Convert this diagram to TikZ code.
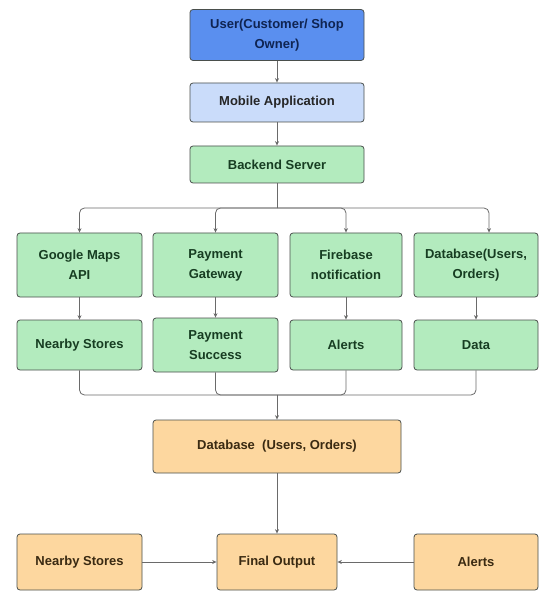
\documentclass[tikz,border=0pt]{standalone}
\usepackage{fontspec}
\setmainfont{Liberation Sans}
\usetikzlibrary{arrows.meta}
\definecolor{ublue}{HTML}{5A8FEF}
\definecolor{utext}{HTML}{0F2452}
\definecolor{lblue}{HTML}{CADCFA}
\definecolor{mgreen}{HTML}{B3EBBE}
\definecolor{gtext}{HTML}{173D22}
\definecolor{lorange}{HTML}{FDD79F}
\definecolor{otext}{HTML}{3A2A12}
\definecolor{edge}{HTML}{4A4F4C}
\definecolor{wire}{HTML}{6A6A6A}
\begin{document}
\begin{tikzpicture}[x=1pt,y=-1pt,
  boxbase/.style={draw=edge,line width=0.8pt,rounded corners=3pt,align=center,
    font=\fontsize{13}{20}\selectfont\bfseries,inner sep=2pt},
  bluebox/.style={boxbase,fill=ublue,text=utext},
  lbluebox/.style={boxbase,fill=lblue,text=black!85},
  greenbox/.style={boxbase,fill=mgreen,text=gtext},
  orangebox/.style={boxbase,fill=lorange,text=otext},
  wireline/.style={draw=wire,line width=0.8pt,rounded corners=5pt},
  wirearrow/.style={wireline,-{Stealth[length=4.5pt,width=4pt]}}]
\useasboundingbox (0,0) rectangle (540,593);
\fill[white] (0,0) rectangle (540,593);

\node[bluebox,minimum width=174pt,minimum height=51pt] (user) at (277,35) {User(Customer/ Shop\\Owner)};
\node[lbluebox,minimum width=174pt,minimum height=39pt] (mobile) at (277,102.5) {Mobile Application};
\node[greenbox,minimum width=174pt,minimum height=37pt] (backend) at (277,164.5) {Backend Server};

\node[greenbox,minimum width=125pt,minimum height=64pt] (gm) at (79.5,265) {Google Maps\\API};
\node[greenbox,minimum width=125pt,minimum height=64pt] (pg) at (215.5,265) {Payment\\Gateway};
\node[greenbox,minimum width=112pt,minimum height=64pt] (fb) at (346,265) {Firebase\\notification};
\node[greenbox,minimum width=124pt,minimum height=64pt] (db) at (476,265) {Database(Users,\\Orders)};

\node[greenbox,minimum width=125pt,minimum height=50pt] (ns) at (79.5,345) {Nearby Stores};
\node[greenbox,minimum width=125pt,minimum height=54pt] (ps) at (215.5,345) {Payment\\Success};
\node[greenbox,minimum width=112pt,minimum height=50pt] (al) at (346,345) {Alerts};
\node[greenbox,minimum width=124pt,minimum height=50pt] (da) at (476,345) {Data};

\node[orangebox,minimum width=248pt,minimum height=53pt] (odb) at (277,446.5) {Database\ \ (Users, Orders)};
\node[orangebox,minimum width=120pt,minimum height=56pt] (fo) at (277,562) {Final Output};
\node[orangebox,minimum width=125pt,minimum height=56pt] (ons) at (79.5,562) {Nearby Stores};
\node[orangebox,minimum width=124pt,minimum height=56pt] (oal) at (476,562) {Alerts};

\coordinate (split) at (277,208);
\coordinate (merge) at (277,395);

\draw[wirearrow] (user) -- (mobile);
\draw[wirearrow] (mobile) -- (backend);
\draw[wireline] (backend.south) -- (split);
\draw[wirearrow] (split) -| (gm.north);
\draw[wirearrow] (split) -| (pg.north);
\draw[wirearrow] (split) -| (fb.north);
\draw[wirearrow] (split) -| ([xshift=13pt]db.north);

\draw[wirearrow] (gm) -- (ns);
\draw[wirearrow] (pg) -- (ps);
\draw[wirearrow] (fb) -- (al);
\draw[wirearrow] (db) -- (da);

\draw[wireline] (ns.south) |- (merge);
\draw[wireline] (ps.south) |- (merge);
\draw[wireline] (al.south) |- (merge);
\draw[wireline] (da.south) |- (merge);
\draw[wirearrow] (merge) -- (odb.north);

\draw[wirearrow] (odb) -- (fo);
\draw[wirearrow] (ons) -- (fo);
\draw[wirearrow] (oal) -- (fo);
\end{tikzpicture}
\end{document}
